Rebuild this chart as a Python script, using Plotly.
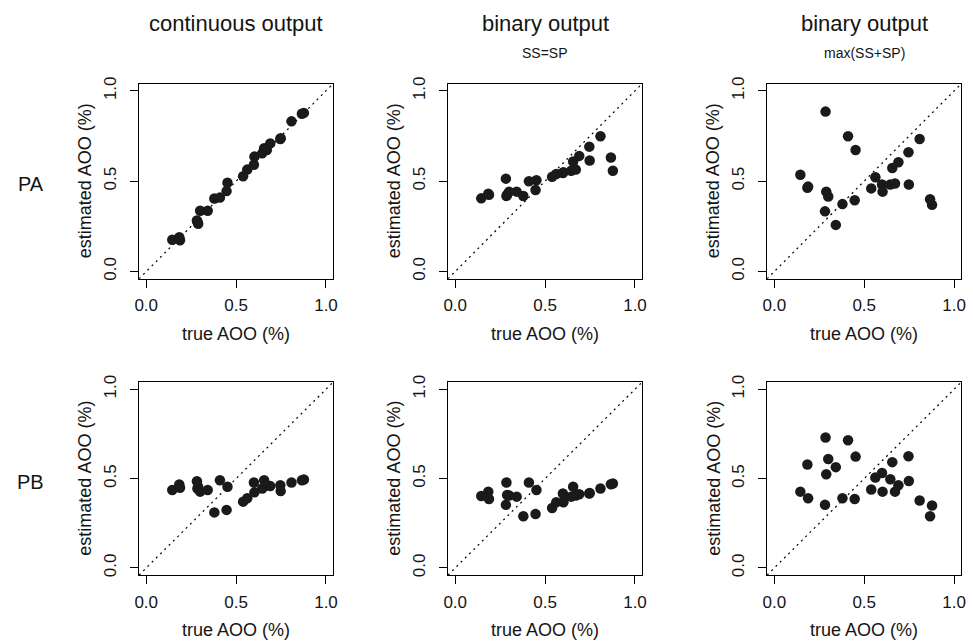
import plotly.graph_objects as go

# ---------------- data ----------------
true_aoo = [0.145, 0.184, 0.188, 0.282, 0.285, 0.289, 0.300, 0.342, 0.379, 0.410,
            0.447, 0.452, 0.539, 0.562, 0.599, 0.602, 0.645, 0.656, 0.671, 0.690,
            0.746, 0.748, 0.808, 0.866, 0.877]

pa_continuous = [0.176, 0.190, 0.173, 0.282, 0.275, 0.264, 0.336, 0.336, 0.404, 0.409,
                 0.445, 0.491, 0.527, 0.564, 0.591, 0.636, 0.654, 0.682, 0.673, 0.709,
                 0.733, 0.738, 0.831, 0.873, 0.878]
pa_ss_eq_sp = [0.405, 0.431, 0.425, 0.514, 0.418, 0.425, 0.442, 0.442, 0.418, 0.500,
               0.451, 0.505, 0.524, 0.540, 0.545, 0.550, 0.558, 0.609, 0.564, 0.640,
               0.691, 0.614, 0.749, 0.631, 0.558]
pa_max_ss_sp = [0.536, 0.464, 0.470, 0.333, 0.885, 0.442, 0.415, 0.258, 0.373, 0.749,
                0.394, 0.673, 0.460, 0.522, 0.482, 0.442, 0.482, 0.573, 0.487, 0.605,
                0.660, 0.482, 0.733, 0.400, 0.369]
pb_continuous = [0.436, 0.467, 0.449, 0.485, 0.445, 0.455, 0.427, 0.436, 0.311, 0.491,
                 0.325, 0.454, 0.371, 0.390, 0.478, 0.423, 0.445, 0.491, 0.462, 0.458,
                 0.463, 0.430, 0.478, 0.491, 0.495]
pb_ss_eq_sp = [0.403, 0.427, 0.386, 0.353, 0.478, 0.408, 0.405, 0.399, 0.289, 0.478,
               0.302, 0.436, 0.335, 0.368, 0.417, 0.368, 0.399, 0.454, 0.405, 0.412,
               0.417, 0.420, 0.445, 0.468, 0.473]
pb_max_ss_sp = [0.427, 0.579, 0.390, 0.353, 0.730, 0.524, 0.610, 0.564, 0.390, 0.715,
                0.386, 0.623, 0.439, 0.506, 0.531, 0.427, 0.496, 0.592, 0.427, 0.463,
                0.625, 0.487, 0.377, 0.289, 0.349]

col_titles = ["continuous output", "binary output", "binary output"]
col_subtitles = ["", "SS=SP", "max(SS+SP)"]
row_labels = ["PA", "PB"]
tick_vals = [0, 0.5, 1.0]
tick_text = ["0.0", "0.5", "1.0"]
x_label = "true AOO (%)"
y_label = "estimated AOO (%)"
axis_range = [-0.04, 1.04]

panels = [[pa_continuous, pa_ss_eq_sp, pa_max_ss_sp],
          [pb_continuous, pb_ss_eq_sp, pb_max_ss_sp]]

# ---------------- layout geometry (pixels) ----------------
W, H = 973, 642
col_px = [(135.4, 331.6), (447.6, 643.8), (770.0, 966.3)]
row_px = [(77.7, 275.6), (380.4, 576.2)]

def px_x(v):
    return v / W

def px_y(v):
    return 1 - v / H

FONT = "Liberation Sans, Arial, Helvetica, sans-serif"
TXT = "#141414"

fig = go.Figure()
layout = dict(
    width=W, height=H,
    margin=dict(l=0, r=0, t=0, b=0),
    paper_bgcolor="white", plot_bgcolor="white",
    showlegend=False,
    font=dict(family=FONT, color=TXT),
)
annotations = []
shapes = []

idx = 0
for r in range(2):
    for c in range(3):
        idx += 1
        xa = "xaxis" if idx == 1 else f"xaxis{idx}"
        ya = "yaxis" if idx == 1 else f"yaxis{idx}"
        xr = "x" if idx == 1 else f"x{idx}"
        yr = "y" if idx == 1 else f"y{idx}"
        x0, x1 = col_px[c]
        y0, y1 = row_px[r]
        common = dict(
            range=axis_range, showgrid=False, zeroline=False,
            showline=True, mirror=True, linecolor="black", linewidth=1,
            ticks="outside", ticklen=8, tickwidth=1, tickcolor="black",
            tickvals=tick_vals, ticktext=tick_text,
            tickfont=dict(size=17, family=FONT, color=TXT),
            fixedrange=True,
        )
        layout[xa] = dict(common, domain=[px_x(x0), px_x(x1)], anchor=yr,
                          ticklabelstandoff=3)
        layout[ya] = dict(common, domain=[px_y(y1), px_y(y0)], anchor=xr,
                          tickangle=-90, ticklabelstandoff=7)

        fig.add_trace(go.Scatter(
            x=true_aoo, y=panels[r][c], mode="markers",
            marker=dict(size=10.5, color="#1a1a1a", line=dict(width=0)),
            xaxis=xr, yaxis=yr, hoverinfo="skip",
        ))
        shapes.append(dict(
            type="line", xref=xr, yref=yr,
            x0=axis_range[0], y0=axis_range[0], x1=axis_range[1], y1=axis_range[1],
            line=dict(color="black", width=1.2, dash="2px,4px"), layer="below",
        ))
        # axis titles
        annotations.append(dict(
            text=x_label, xref="paper", yref="paper",
            x=px_x((x0 + x1) / 2), y=px_y(y1 + 56),
            xanchor="center", yanchor="middle", showarrow=False,
            font=dict(size=18, family=FONT, color=TXT),
        ))
        annotations.append(dict(
            text=y_label, xref="paper", yref="paper",
            x=px_x(x0 - 54.5), y=px_y((y0 + y1) / 2),
            xanchor="center", yanchor="middle", showarrow=False, textangle=-90,
            font=dict(size=18, family=FONT, color=TXT),
        ))

# column titles
for c in range(3):
    x0, x1 = col_px[c]
    annotations.append(dict(
        text=col_titles[c], xref="paper", yref="paper",
        x=px_x((x0 + x1) / 2), y=px_y(17),
        xanchor="center", yanchor="middle", showarrow=False,
        font=dict(size=22, family=FONT, color=TXT),
    ))
    if col_subtitles[c]:
        annotations.append(dict(
            text=col_subtitles[c], xref="paper", yref="paper",
            x=px_x((x0 + x1) / 2), y=px_y(47),
            xanchor="center", yanchor="middle", showarrow=False,
            font=dict(size=14, family=FONT, color=TXT),
        ))

# row labels
for r in range(2):
    y0, y1 = row_px[r]
    annotations.append(dict(
        text=row_labels[r], xref="paper", yref="paper",
        x=px_x(26), y=px_y((y0 + y1) / 2 + 3),
        xanchor="center", yanchor="middle", showarrow=False,
        font=dict(size=20, family=FONT, color=TXT),
    ))

layout["annotations"] = annotations
layout["shapes"] = shapes
fig.update_layout(**layout)

fig.write_html(
    "out.html",
    config={"displayModeBar": False, "staticPlot": True},
    post_script="document.body.style.margin='0';document.body.style.overflow='hidden';",
)
